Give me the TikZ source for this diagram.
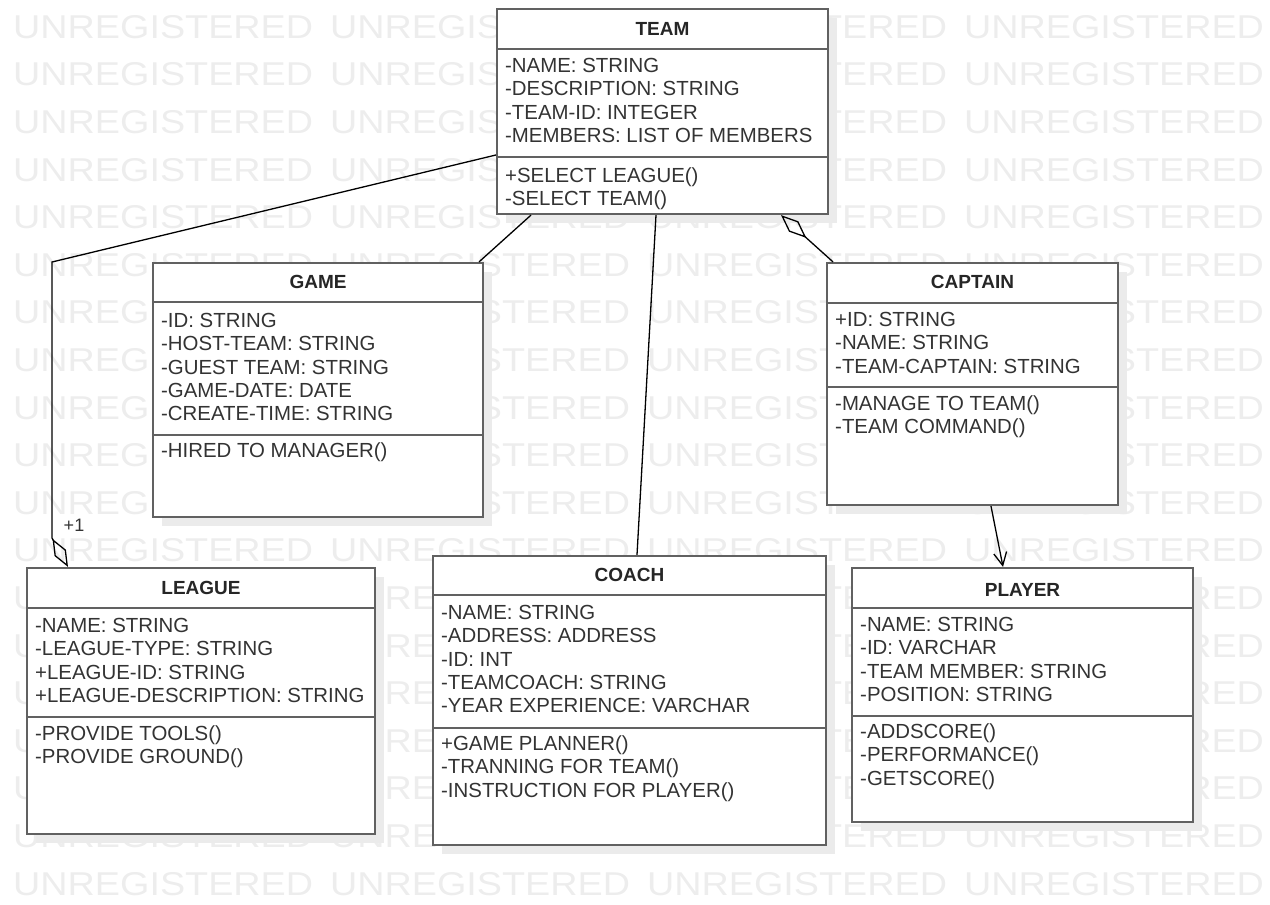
\documentclass[tikz,border=0pt]{standalone}
\usepackage{fontspec}
\setmainfont{Liberation Sans}
\usetikzlibrary{arrows.meta,shadows}

\begin{document}
\begin{tikzpicture}[x=1pt, y=-1pt,
    classbox/.style={draw=black!62, line width=2.2pt, fill=white, inner sep=0pt,
      general shadow={fill=black!8, shadow xshift=9pt, shadow yshift=-9pt}},
    classtitle/.style={font=\fontsize{19}{22}\selectfont\bfseries, text=black!85, anchor=base, inner sep=0pt},
    member/.style={font=\fontsize{20.4}{23.5}\selectfont, text=black!80, anchor=base west, inner sep=0pt},
    sepline/.style={draw=black!62, line width=2.2pt},
    link/.style={draw=black, line width=1.3pt},
    watermark/.style={font=\fontsize{33}{33}\selectfont, text=black!7, anchor=west, inner sep=0pt}]
    % page frame: 1270 x 905 px, y grows downwards
    \useasboundingbox (0,0) rectangle (1270,905);
    \def\dy{23.4}  % line pitch inside the class boxes
    % background watermark rows
    \def\wm{\scalebox{1.144}[1]{UNREGISTERED}}
    \foreach \r in {0,...,18}
        \node[watermark] (wm\r) at (13,{27+\r*47.6}) {\wm\hspace{17pt}\wm\hspace{17pt}\wm\hspace{17pt}\wm};

    % TEAM
    \node[classbox, minimum width=331, minimum height=205] (team) at (662.5,111.5) {};
    \node[classtitle] (team-title) at (team.north |- 0,35.8) {TEAM};
    \draw[sepline] (team.west |- 0,49) -- (team.east |- 0,49);
    \draw[sepline] (team.west |- 0,157) -- (team.east |- 0,157);
    \foreach \txt [count=\i] in {-NAME: STRING, -DESCRIPTION: STRING, -TEAM-ID: INTEGER, -MEMBERS: LIST OF MEMBERS}
        \node[member] (team-a\i) at (505,{72.3+(\i-1)*\dy}) {\txt};
    \foreach \txt [count=\i] in {+SELECT LEAGUE(), -SELECT TEAM()}
        \node[member] (team-m\i) at (505,{182.3+(\i-1)*\dy}) {\txt};

    % GAME
    \node[classbox, minimum width=330, minimum height=254] (game) at (318,390) {};
    \node[classtitle] (game-title) at (game.north |- 0,288.8) {GAME};
    \draw[sepline] (game.west |- 0,302) -- (game.east |- 0,302);
    \draw[sepline] (game.west |- 0,435) -- (game.east |- 0,435);
    \foreach \txt [count=\i] in {-ID: STRING, -HOST-TEAM: STRING, -GUEST TEAM: STRING, -GAME-DATE: DATE, -CREATE-TIME: STRING}
        \node[member] (game-a\i) at (161,{327.3+(\i-1)*\dy}) {\txt};
    \node[member] (game-m1) at (161,457.3) {-HIRED TO MANAGER()};

    % CAPTAIN
    \node[classbox, minimum width=291, minimum height=242] (captain) at (972.5,384) {};
    \node[classtitle] (captain-title) at (captain.north |- 0,288.8) {CAPTAIN};
    \draw[sepline] (captain.west |- 0,303) -- (captain.east |- 0,303);
    \draw[sepline] (captain.west |- 0,387) -- (captain.east |- 0,387);
    \foreach \txt [count=\i] in {+ID: STRING, -NAME: STRING, -TEAM-CAPTAIN: STRING}
        \node[member] (captain-a\i) at (835,{326.3+(\i-1)*\dy}) {\txt};
    \foreach \txt [count=\i] in {-MANAGE TO TEAM(), -TEAM COMMAND()}
        \node[member] (captain-m\i) at (835,{410.3+(\i-1)*\dy}) {\txt};

    % LEAGUE
    \node[classbox, minimum width=348, minimum height=266] (league) at (201,701) {};
    \node[classtitle] (league-title) at (league.north |- 0,594.8) {LEAGUE};
    \draw[sepline] (league.west |- 0,608) -- (league.east |- 0,608);
    \draw[sepline] (league.west |- 0,717) -- (league.east |- 0,717);
    \foreach \txt [count=\i] in {-NAME: STRING, -LEAGUE-TYPE: STRING, +LEAGUE-ID: STRING, +LEAGUE-DESCRIPTION: STRING}
        \node[member] (league-a\i) at (35,{632.3+(\i-1)*\dy}) {\txt};
    \foreach \txt [count=\i] in {-PROVIDE TOOLS(), -PROVIDE GROUND()}
        \node[member] (league-m\i) at (35,{740.3+(\i-1)*\dy}) {\txt};

    % COACH
    \node[classbox, minimum width=393, minimum height=289] (coach) at (629.5,700.5) {};
    \node[classtitle] (coach-title) at (coach.north |- 0,581.8) {COACH};
    \draw[sepline] (coach.west |- 0,595) -- (coach.east |- 0,595);
    \draw[sepline] (coach.west |- 0,728) -- (coach.east |- 0,728);
    \foreach \txt [count=\i] in {-NAME: STRING, -ADDRESS: ADDRESS, -ID: INT, -TEAMCOACH: STRING, -YEAR EXPERIENCE: VARCHAR}
        \node[member] (coach-a\i) at (441,{619.3+(\i-1)*\dy}) {\txt};
    \foreach \txt [count=\i] in {+GAME PLANNER(), -TRANNING FOR TEAM(), -INSTRUCTION FOR PLAYER()}
        \node[member] (coach-m\i) at (441,{750.3+(\i-1)*\dy}) {\txt};

    % PLAYER
    \node[classbox, minimum width=341, minimum height=254] (player) at (1022.5,695) {};
    \node[classtitle] (player-title) at (player.north |- 0,596.8) {PLAYER};
    \draw[sepline] (player.west |- 0,608) -- (player.east |- 0,608);
    \draw[sepline] (player.west |- 0,716) -- (player.east |- 0,716);
    \foreach \txt [count=\i] in {-NAME: STRING, -ID: VARCHAR, -TEAM MEMBER: STRING, -POSITION: STRING}
        \node[member] (player-a\i) at (860,{631.3+(\i-1)*\dy}) {\txt};
    \foreach \txt [count=\i] in {-ADDSCORE(), -PERFORMANCE(), -GETSCORE()}
        \node[member] (player-m\i) at (860,{738.3+(\i-1)*\dy}) {\txt};

    % associations
    \draw[link, -{Diamond[open, length=32pt, width=13pt]}]
        (team.west |- 0,155) -- (52,262) -- (52,538) -- (league.north -| 68,0);
    \node[font=\fontsize{18}{18}\selectfont, text=black!80] (mult) at (74,525) {+1};
    \draw[link] (team.south -| 531,0) -- (game.north -| 479,0);
    \draw[link] (team.south -| 656,0) -- (coach.north -| 637,0);
    \draw[link, -{Diamond[open, length=34pt, width=14pt]}]
        (captain.north -| 833,0) -- (team.south -| 781,0);
    \draw[link, -{Straight Barb[length=13pt, width=13pt]}]
        (captain.south -| 991,0) -- (player.north -| 1003,0);
\end{tikzpicture}
\end{document}
